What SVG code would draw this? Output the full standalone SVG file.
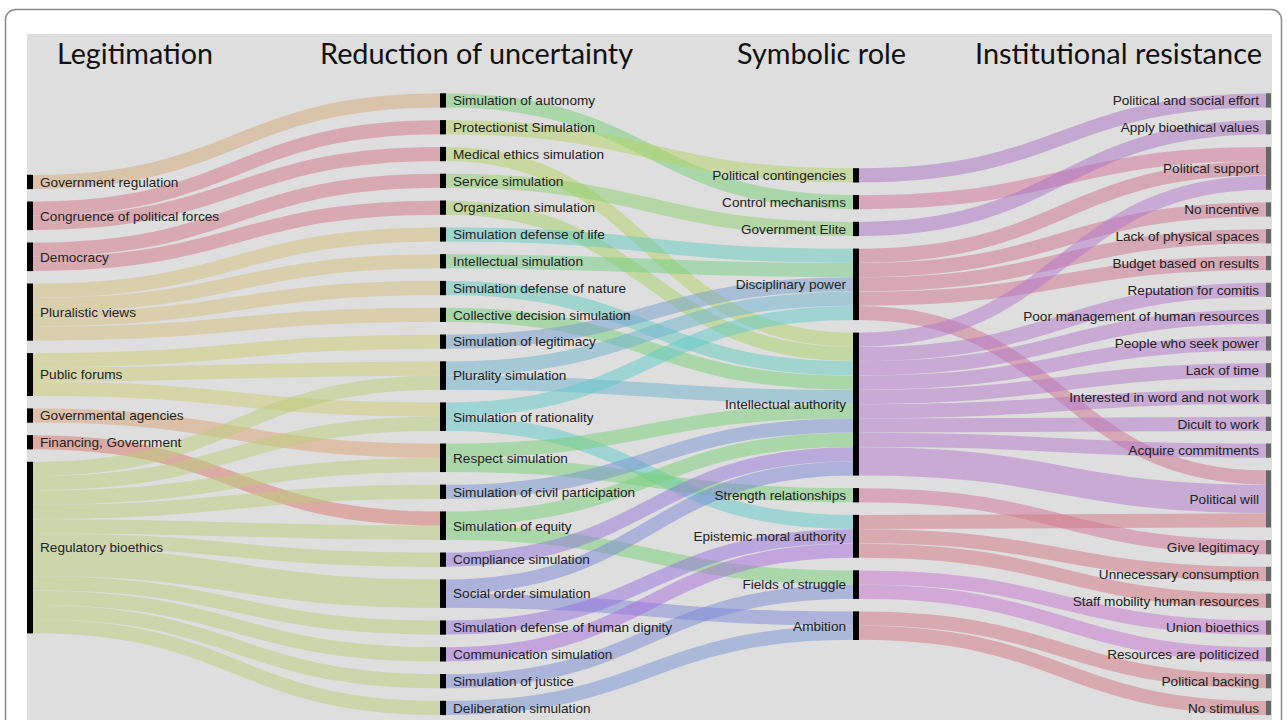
<svg xmlns="http://www.w3.org/2000/svg" width="1287" height="720" viewBox="0 0 1287 720">
<style>
.hdr{font-family:Lato,"Open Sans","Liberation Sans",sans-serif;font-size:29px;fill:#111}
.lbl{font-family:"Liberation Sans",Arial,sans-serif;font-size:13.6px;fill:#222}
.r{text-anchor:end}
.bar{fill:#000}
.bar4{fill:#666}
#links path{fill:none;stroke-opacity:0.5;stroke-width:14}
#links path.w2{stroke-width:28.3}
.tan{stroke:#d4a878}.pink{stroke:#d47484}.plv{stroke:#d4c07a}.pub{stroke:#cccc70}.gag{stroke:#dca276}.fin{stroke:#da766c}.reg{stroke:#bccc78}
.gr{stroke:#76d076}.yg{stroke:#b2d262}.yg2{stroke:#a6d266}.sv{stroke:#8ad06c}.te{stroke:#62cabe}.ig{stroke:#72ce82}.bl{stroke:#729ece}.pl{stroke:#6cb2d0}.ra{stroke:#5ecaca}.cv{stroke:#7694d0}.cp{stroke:#9476da}.so{stroke:#7a86d6}.dg{stroke:#9470de}.cm{stroke:#a86cde}.ju{stroke:#7a8ad6}.de{stroke:#7694d6}
.pu{stroke:#aa72c6}.pk{stroke:#d27296}.dp{stroke:#ce728e}.ia{stroke:#b276ca}.ep{stroke:#d27682}.fs{stroke:#c672d0}
</style>
<rect x="5.5" y="9.5" width="1276" height="740" rx="10" fill="#fff" stroke="#8a8a8a" stroke-width="1.5"/>
<rect x="27" y="34" width="1245" height="700" fill="#dedede"/>
<g id="headers">
<text class="hdr" x="57" y="64" textLength="156" lengthAdjust="spacingAndGlyphs">Legitimation</text>
<text class="hdr" x="320" y="64" textLength="313" lengthAdjust="spacingAndGlyphs">Reduction of uncertainty</text>
<text class="hdr" x="737" y="64" textLength="169" lengthAdjust="spacingAndGlyphs">Symbolic role</text>
<text class="hdr" x="975" y="64" textLength="287" lengthAdjust="spacingAndGlyphs">Institutional resistance</text>
</g>
<g id="links">
<path class="tan" d="M33,181.95C236.5,181.95 236.5,100.45 440,100.45"/>
<path class="pink" d="M33,208.65C236.5,208.65 236.5,127.25 440,127.25"/>
<path class="pink" d="M33,222.95C236.5,222.95 236.5,154.05 440,154.05"/>
<path class="pink" d="M33,249.65C236.5,249.65 236.5,180.85 440,180.85"/>
<path class="pink" d="M33,263.95C236.5,263.95 236.5,207.65 440,207.65"/>
<path class="plv" d="M33,290.65C236.5,290.65 236.5,234.45 440,234.45"/>
<path class="plv" d="M33,304.95C236.5,304.95 236.5,261.25 440,261.25"/>
<path class="plv" d="M33,319.25C236.5,319.25 236.5,288.05 440,288.05"/>
<path class="plv" d="M33,333.55C236.5,333.55 236.5,314.85 440,314.85"/>
<path class="pub" d="M33,360.25C236.5,360.25 236.5,341.65 440,341.65"/>
<path class="pub" d="M33,374.55C236.5,374.55 236.5,368.45 440,368.45"/>
<path class="pub" d="M33,388.85C236.5,388.85 236.5,409.55 440,409.55"/>
<path class="gag" d="M33,415.55C236.5,415.55 236.5,450.65 440,450.65"/>
<path class="fin" d="M33,442.25C236.5,442.25 236.5,518.55 440,518.55"/>
<path class="reg" d="M33,468.95C236.5,468.95 236.5,382.75 440,382.75"/>
<path class="reg" d="M33,483.25C236.5,483.25 236.5,423.85 440,423.85"/>
<path class="reg" d="M33,497.55C236.5,497.55 236.5,464.95 440,464.95"/>
<path class="reg" d="M33,511.85C236.5,511.85 236.5,491.75 440,491.75"/>
<path class="reg" d="M33,526.15C236.5,526.15 236.5,532.85 440,532.85"/>
<path class="reg" d="M33,540.45C236.5,540.45 236.5,559.65 440,559.65"/>
<path class="reg w2" d="M33,561.9C236.5,561.9 236.5,593.6 440,593.6"/>
<path class="reg" d="M33,583.35C236.5,583.35 236.5,627.55 440,627.55"/>
<path class="reg" d="M33,597.65C236.5,597.65 236.5,654.35 440,654.35"/>
<path class="reg" d="M33,611.95C236.5,611.95 236.5,681.15 440,681.15"/>
<path class="reg" d="M33,626.25C236.5,626.25 236.5,707.95 440,707.95"/>

<path class="gr" d="M446,100.45C649.5,100.45 649.5,202.15 853,202.15"/>
<path class="yg" d="M446,127.25C649.5,127.25 649.5,175.35 853,175.35"/>
<path class="yg" d="M446,154.05C649.5,154.05 649.5,339.75 853,339.75"/>
<path class="sv" d="M446,180.85C649.5,180.85 649.5,228.95 853,228.95"/>
<path class="yg2" d="M446,207.65C649.5,207.65 649.5,354.05 853,354.05"/>
<path class="te" d="M446,234.45C649.5,234.45 649.5,255.75 853,255.75"/>
<path class="ig" d="M446,261.25C649.5,261.25 649.5,270.05 853,270.05"/>
<path class="te" d="M446,288.05C649.5,288.05 649.5,368.35 853,368.35"/>
<path class="gr" d="M446,314.85C649.5,314.85 649.5,382.65 853,382.65"/>
<path class="bl" d="M446,341.65C649.5,341.65 649.5,284.35 853,284.35"/>
<path class="pl" d="M446,368.45C649.5,368.45 649.5,298.65 853,298.65"/>
<path class="pl" d="M446,382.75C649.5,382.75 649.5,396.95 853,396.95"/>
<path class="ra" d="M446,409.55C649.5,409.55 649.5,312.95 853,312.95"/>
<path class="ra" d="M446,423.85C649.5,423.85 649.5,522.05 853,522.05"/>
<path class="gr" d="M446,450.65C649.5,450.65 649.5,411.25 853,411.25"/>
<path class="gr" d="M446,464.95C649.5,464.95 649.5,495.25 853,495.25"/>
<path class="cv" d="M446,491.75C649.5,491.75 649.5,425.55 853,425.55"/>
<path class="gr" d="M446,518.55C649.5,518.55 649.5,439.85 853,439.85"/>
<path class="gr" d="M446,532.85C649.5,532.85 649.5,577.45 853,577.45"/>
<path class="cp" d="M446,559.65C649.5,559.65 649.5,454.15 853,454.15"/>
<path class="so" d="M446,586.45C649.5,586.45 649.5,468.45 853,468.45"/>
<path class="so" d="M446,600.75C649.5,600.75 649.5,618.55 853,618.55"/>
<path class="dg" d="M446,627.55C649.5,627.55 649.5,536.35 853,536.35"/>
<path class="cm" d="M446,654.35C649.5,654.35 649.5,550.65 853,550.65"/>
<path class="ju" d="M446,681.15C649.5,681.15 649.5,591.75 853,591.75"/>
<path class="de" d="M446,707.95C649.5,707.95 649.5,632.85 853,632.85"/>

<path class="pu" d="M859,175.35C1062.5,175.35 1062.5,100.45 1266,100.45"/>
<path class="pk" d="M859,202.15C1062.5,202.15 1062.5,154.05 1266,154.05"/>
<path class="pu" d="M859,228.95C1062.5,228.95 1062.5,127.25 1266,127.25"/>
<path class="dp" d="M859,255.75C1062.5,255.75 1062.5,168.35 1266,168.35"/>
<path class="dp" d="M859,270.05C1062.5,270.05 1062.5,209.45 1266,209.45"/>
<path class="dp" d="M859,284.35C1062.5,284.35 1062.5,236.25 1266,236.25"/>
<path class="dp" d="M859,298.65C1062.5,298.65 1062.5,263.05 1266,263.05"/>
<path class="dp" d="M859,312.95C1062.5,312.95 1062.5,477.45 1266,477.45"/>
<path class="ia" d="M859,339.75C1062.5,339.75 1062.5,182.65 1266,182.65"/>
<path class="ia" d="M859,354.05C1062.5,354.05 1062.5,289.85 1266,289.85"/>
<path class="ia" d="M859,368.35C1062.5,368.35 1062.5,316.65 1266,316.65"/>
<path class="ia" d="M859,382.65C1062.5,382.65 1062.5,343.45 1266,343.45"/>
<path class="ia" d="M859,396.95C1062.5,396.95 1062.5,370.25 1266,370.25"/>
<path class="ia" d="M859,411.25C1062.5,411.25 1062.5,397.05 1266,397.05"/>
<path class="ia" d="M859,425.55C1062.5,425.55 1062.5,423.85 1266,423.85"/>
<path class="ia" d="M859,439.85C1062.5,439.85 1062.5,450.65 1266,450.65"/>
<path class="ia w2" d="M859,461.3C1062.5,461.3 1062.5,498.9 1266,498.9"/>
<path class="pk" d="M859,495.25C1062.5,495.25 1062.5,547.15 1266,547.15"/>
<path class="ep" d="M859,522.05C1062.5,522.05 1062.5,520.35 1266,520.35"/>
<path class="ep" d="M859,536.35C1062.5,536.35 1062.5,573.95 1266,573.95"/>
<path class="ep" d="M859,550.65C1062.5,550.65 1062.5,600.75 1266,600.75"/>
<path class="fs" d="M859,577.45C1062.5,577.45 1062.5,627.55 1266,627.55"/>
<path class="fs" d="M859,591.75C1062.5,591.75 1062.5,654.35 1266,654.35"/>
<path class="ep" d="M859,618.55C1062.5,618.55 1062.5,681.15 1266,681.15"/>
<path class="ep" d="M859,632.85C1062.5,632.85 1062.5,707.95 1266,707.95"/>
</g>

<g id="n-govreg"><rect class="bar" x="27" y="174.8" width="6" height="14.3"/><text class="lbl" x="40" y="186.7">Government regulation</text></g>
<g id="n-congruence"><rect class="bar" x="27" y="201.5" width="6" height="28.6"/><text class="lbl" x="40" y="220.6">Congruence of political forces</text></g>
<g id="n-democracy"><rect class="bar" x="27" y="242.5" width="6" height="28.6"/><text class="lbl" x="40" y="261.6">Democracy</text></g>
<g id="n-pluralistic"><rect class="bar" x="27" y="283.5" width="6" height="57.2"/><text class="lbl" x="40" y="316.9">Pluralistic views</text></g>
<g id="n-publicforums"><rect class="bar" x="27" y="353.1" width="6" height="42.9"/><text class="lbl" x="40" y="379.3">Public forums</text></g>
<g id="n-govagencies"><rect class="bar" x="27" y="408.4" width="6" height="14.3"/><text class="lbl" x="40" y="420.3">Governmental agencies</text></g>
<g id="n-financing"><rect class="bar" x="27" y="435.1" width="6" height="14.3"/><text class="lbl" x="40" y="447">Financing, Government</text></g>
<g id="n-regbio"><rect class="bar" x="27" y="461.8" width="6" height="171.6"/><text class="lbl" x="40" y="552.4">Regulatory bioethics</text></g>

<g id="n-autonomy"><rect class="bar" x="440" y="93.3" width="6" height="14.3"/><text class="lbl" x="453" y="105.2">Simulation of autonomy</text></g>
<g id="n-protectionist"><rect class="bar" x="440" y="120.1" width="6" height="14.3"/><text class="lbl" x="453" y="132">Protectionist Simulation</text></g>
<g id="n-medical"><rect class="bar" x="440" y="146.9" width="6" height="14.3"/><text class="lbl" x="453" y="158.8">Medical ethics simulation</text></g>
<g id="n-service"><rect class="bar" x="440" y="173.7" width="6" height="14.3"/><text class="lbl" x="453" y="185.6">Service simulation</text></g>
<g id="n-organization"><rect class="bar" x="440" y="200.5" width="6" height="14.3"/><text class="lbl" x="453" y="212.4">Organization simulation</text></g>
<g id="n-deflife"><rect class="bar" x="440" y="227.3" width="6" height="14.3"/><text class="lbl" x="453" y="239.2">Simulation defense of life</text></g>
<g id="n-intsim"><rect class="bar" x="440" y="254.1" width="6" height="14.3"/><text class="lbl" x="453" y="266">Intellectual simulation</text></g>
<g id="n-defnature"><rect class="bar" x="440" y="280.9" width="6" height="14.3"/><text class="lbl" x="453" y="292.8">Simulation defense of nature</text></g>
<g id="n-collective"><rect class="bar" x="440" y="307.7" width="6" height="14.3"/><text class="lbl" x="453" y="319.6">Collective decision simulation</text></g>
<g id="n-legitimacy"><rect class="bar" x="440" y="334.5" width="6" height="14.3"/><text class="lbl" x="453" y="346.4">Simulation of legitimacy</text></g>
<g id="n-plurality"><rect class="bar" x="440" y="361.3" width="6" height="28.6"/><text class="lbl" x="453" y="380.4">Plurality simulation</text></g>
<g id="n-rationality"><rect class="bar" x="440" y="402.4" width="6" height="28.6"/><text class="lbl" x="453" y="421.5">Simulation of rationality</text></g>
<g id="n-respect"><rect class="bar" x="440" y="443.5" width="6" height="28.6"/><text class="lbl" x="453" y="462.6">Respect simulation</text></g>
<g id="n-civil"><rect class="bar" x="440" y="484.6" width="6" height="14.3"/><text class="lbl" x="453" y="496.5">Simulation of civil participation</text></g>
<g id="n-equity"><rect class="bar" x="440" y="511.4" width="6" height="28.6"/><text class="lbl" x="453" y="530.5">Simulation of equity</text></g>
<g id="n-compliance"><rect class="bar" x="440" y="552.5" width="6" height="14.3"/><text class="lbl" x="453" y="564.4">Compliance simulation</text></g>
<g id="n-socialorder"><rect class="bar" x="440" y="579.3" width="6" height="28.6"/><text class="lbl" x="453" y="598.4">Social order simulation</text></g>
<g id="n-dignity"><rect class="bar" x="440" y="620.4" width="6" height="14.3"/><text class="lbl" x="453" y="632.3">Simulation defense of human dignity</text></g>
<g id="n-communication"><rect class="bar" x="440" y="647.2" width="6" height="14.3"/><text class="lbl" x="453" y="659.1">Communication simulation</text></g>
<g id="n-justice"><rect class="bar" x="440" y="674" width="6" height="14.3"/><text class="lbl" x="453" y="685.9">Simulation of justice</text></g>
<g id="n-deliberation"><rect class="bar" x="440" y="700.8" width="6" height="14.3"/><text class="lbl" x="453" y="712.7">Deliberation simulation</text></g>

<g id="n-polcont"><rect class="bar" x="853" y="168.2" width="6" height="14.3"/><text class="lbl r" x="846" y="180.1">Political contingencies</text></g>
<g id="n-control"><rect class="bar" x="853" y="195" width="6" height="14.3"/><text class="lbl r" x="846" y="206.9">Control mechanisms</text></g>
<g id="n-govelite"><rect class="bar" x="853" y="221.8" width="6" height="14.3"/><text class="lbl r" x="846" y="233.7">Government Elite</text></g>
<g id="n-disciplinary"><rect class="bar" x="853" y="248.6" width="6" height="71.5"/><text class="lbl r" x="846" y="289.1">Disciplinary power</text></g>
<g id="n-intauthority"><rect class="bar" x="853" y="332.6" width="6" height="143"/><text class="lbl r" x="846" y="408.9">Intellectual authority</text></g>
<g id="n-strength"><rect class="bar" x="853" y="488.1" width="6" height="14.3"/><text class="lbl r" x="846" y="500">Strength relationships</text></g>
<g id="n-epistemic"><rect class="bar" x="853" y="514.9" width="6" height="42.9"/><text class="lbl r" x="846" y="541.1">Epistemic moral authority</text></g>
<g id="n-fields"><rect class="bar" x="853" y="570.3" width="6" height="28.6"/><text class="lbl r" x="846" y="589.4">Fields of struggle</text></g>
<g id="n-ambition"><rect class="bar" x="853" y="611.4" width="6" height="28.6"/><text class="lbl r" x="846" y="630.5">Ambition</text></g>

<g id="n-pse"><rect class="bar4" x="1266" y="93.3" width="5" height="14.3"/><text class="lbl r" x="1259" y="105.2">Political and social effort</text></g>
<g id="n-applybio"><rect class="bar4" x="1266" y="120.1" width="5" height="14.3"/><text class="lbl r" x="1259" y="132">Apply bioethical values</text></g>
<g id="n-polsupport"><rect class="bar4" x="1266" y="146.9" width="5" height="42.9"/><text class="lbl r" x="1259" y="173.1">Political support</text></g>
<g id="n-noincentive"><rect class="bar4" x="1266" y="202.3" width="5" height="14.3"/><text class="lbl r" x="1259" y="214.2">No incentive</text></g>
<g id="n-lackphys"><rect class="bar4" x="1266" y="229.1" width="5" height="14.3"/><text class="lbl r" x="1259" y="241">Lack of physical spaces</text></g>
<g id="n-budget"><rect class="bar4" x="1266" y="255.9" width="5" height="14.3"/><text class="lbl r" x="1259" y="267.8">Budget based on results</text></g>
<g id="n-reputation"><rect class="bar4" x="1266" y="282.7" width="5" height="14.3"/><text class="lbl r" x="1259" y="294.6">Reputation for comitis</text></g>
<g id="n-poormgmt"><rect class="bar4" x="1266" y="309.5" width="5" height="14.3"/><text class="lbl r" x="1259" y="321.4">Poor management of human resources</text></g>
<g id="n-people"><rect class="bar4" x="1266" y="336.3" width="5" height="14.3"/><text class="lbl r" x="1259" y="348.2">People who seek power</text></g>
<g id="n-lacktime"><rect class="bar4" x="1266" y="363.1" width="5" height="14.3"/><text class="lbl r" x="1259" y="375">Lack of time</text></g>
<g id="n-interested"><rect class="bar4" x="1266" y="389.9" width="5" height="14.3"/><text class="lbl r" x="1259" y="401.8">Interested in word and not work</text></g>
<g id="n-dicult"><rect class="bar4" x="1266" y="416.7" width="5" height="14.3"/><text class="lbl r" x="1259" y="428.6">Dicult to work</text></g>
<g id="n-acquire"><rect class="bar4" x="1266" y="443.5" width="5" height="14.3"/><text class="lbl r" x="1259" y="455.4">Acquire commitments</text></g>
<g id="n-polwill"><rect class="bar4" x="1266" y="470.3" width="5" height="57.2"/><text class="lbl r" x="1259" y="503.7">Political will</text></g>
<g id="n-giveleg"><rect class="bar4" x="1266" y="540" width="5" height="14.3"/><text class="lbl r" x="1259" y="551.9">Give legitimacy</text></g>
<g id="n-unnecessary"><rect class="bar4" x="1266" y="566.8" width="5" height="14.3"/><text class="lbl r" x="1259" y="578.7">Unnecessary consumption</text></g>
<g id="n-staff"><rect class="bar4" x="1266" y="593.6" width="5" height="14.3"/><text class="lbl r" x="1259" y="605.5">Staff mobility human resources</text></g>
<g id="n-union"><rect class="bar4" x="1266" y="620.4" width="5" height="14.3"/><text class="lbl r" x="1259" y="632.3">Union bioethics</text></g>
<g id="n-resources"><rect class="bar4" x="1266" y="647.2" width="5" height="14.3"/><text class="lbl r" x="1259" y="659.1">Resources are politicized</text></g>
<g id="n-backing"><rect class="bar4" x="1266" y="674" width="5" height="14.3"/><text class="lbl r" x="1259" y="685.9">Political backing</text></g>
<g id="n-nostim"><rect class="bar4" x="1266" y="700.8" width="5" height="14.3"/><text class="lbl r" x="1259" y="712.7">No stimulus</text></g>
</svg>
